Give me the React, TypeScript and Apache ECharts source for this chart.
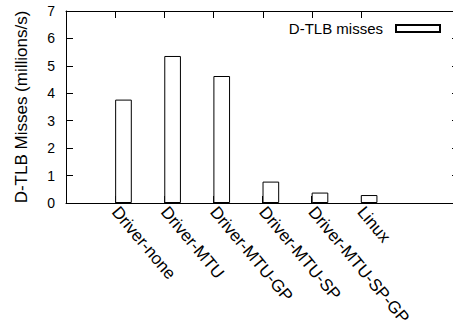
import React, { useEffect, useRef } from "react";
import * as echarts from "echarts";

const CATEGORIES = [
  "Driver-none",
  "Driver-MTU",
  "Driver-MTU-GP",
  "Driver-MTU-SP",
  "Driver-MTU-SP-GP",
  "Linux",
];
const DTLB_MISSES = [3.77, 5.36, 4.63, 0.78, 0.38, 0.29];
const SERIES_NAME = "D-TLB misses";
const Y_TICKS = [0, 1, 2, 3, 4, 5, 6, 7];
const X_MIN = -1;
const X_MAX = 7;
const BOX_WIDTH = 0.34; // bar width in category units, bar starts at the tick

const FONT = "Liberation Sans, Arial, Helvetica, sans-serif";

export default function App() {
  const ref = useRef<HTMLDivElement>(null);
  useEffect(() => {
    if (!ref.current) return;
    const chart = echarts.init(ref.current, undefined, { renderer: "svg" });
    const Y_MAX = Y_TICKS[Y_TICKS.length - 1];
    const slots: string[] = [];
    for (let x = X_MIN; x <= X_MAX; x++) slots.push(CATEGORIES[x] ?? "");
    const isCat = (_i: number, v: string) => v !== "";
    const yCommon = {
      type: "value" as const,
      min: Y_TICKS[0],
      max: Y_MAX,
      interval: 1,
      splitLine: { show: false },
      axisLine: { show: true, onZero: false, lineStyle: { color: "#000", width: 1 } },
      axisTick: { show: true, inside: true, length: 7, lineStyle: { color: "#000" } },
    };
    chart.setOption({
      animation: false,
      textStyle: { fontFamily: FONT },
      grid: {
        left: 66,
        top: 11,
        right: -6,
        bottom: 123,
        containLabel: false,
        outerBoundsMode: "none",
      },
      legend: {
        data: [SERIES_NAME],
        right: 12,
        top: 21,
        padding: 0,
        align: "right",
        icon: "rect",
        itemWidth: 44,
        itemHeight: 7,
        textStyle: { fontFamily: FONT, fontSize: 15, color: "#000", padding: [0, 8, 0, 0] },
      },
      xAxis: [
        {
          type: "value",
          min: X_MIN,
          max: X_MAX,
          interval: 1,
          show: false,
        },
        {
          type: "category",
          data: slots,
          boundaryGap: false,
          position: "bottom",
          splitLine: { show: false },
          axisLine: { show: true, onZero: false, lineStyle: { color: "#000", width: 1 } },
          axisTick: { show: true, inside: true, length: 7, interval: isCat, lineStyle: { color: "#000" } },
          axisLabel: {
            show: true,
            interval: isCat,
            rotate: -50,
            margin: 6,
            fontSize: 17,
            fontFamily: FONT,
            color: "#000",
          },
        },
        {
          type: "category",
          data: slots,
          boundaryGap: false,
          position: "top",
          splitLine: { show: false },
          axisLine: { show: true, onZero: false, lineStyle: { color: "#000", width: 1 } },
          axisTick: { show: false },
          axisLabel: { show: false },
        },
      ],
      yAxis: [
        {
          ...yCommon,
          position: "left",
          name: "D-TLB Misses (millions/s)",
          nameLocation: "middle",
          nameRotate: 90,
          nameGap: 36,
          nameTextStyle: { fontFamily: FONT, fontSize: 17, color: "#000" },
          axisLabel: { fontSize: 14, fontFamily: FONT, color: "#000", margin: 11 },
        },
        {
          ...yCommon,
          position: "right",
          axisLabel: { show: false },
        },
      ],
      series: [
        {
          name: SERIES_NAME,
          type: "bar",
          xAxisIndex: 0,
          yAxisIndex: 0,
          barWidth: BOX_WIDTH * 49,
          data: DTLB_MISSES.map((v, i) => [i + BOX_WIDTH / 2, v]),
          itemStyle: { color: "#fff", borderColor: "#000", borderWidth: 1 },
        },
        {
          // mirrored x tics on the top border
          name: "top-tics",
          type: "custom",
          xAxisIndex: 0,
          yAxisIndex: 0,
          silent: true,
          clip: false,
          z: 10,
          data: CATEGORIES.map((_, i) => [i, Y_MAX]),
          renderItem: (_params: any, api: any) => {
            const p = api.coord([api.value(0), api.value(1)]);
            const x = Math.round(p[0]) + 0.5;
            const y = Math.round(p[1]);
            return {
              type: "line",
              shape: { x1: x, y1: y, x2: x, y2: y + 7 },
              style: { stroke: "#000", lineWidth: 1 },
            };
          },
        },
      ],
    });
    return () => chart.dispose();
  }, []);
  return (
    <div
      ref={ref}
      style={{ position: "absolute", left: 0, top: 0, width: 453, height: 326 }}
    />
  );
}
